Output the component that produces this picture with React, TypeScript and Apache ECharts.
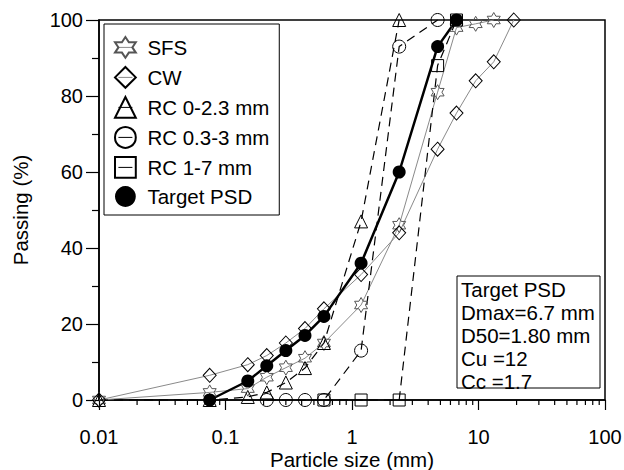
import React, { useEffect, useRef } from "react";
import * as echarts from "echarts";

// ---- data ----
const sfsSize = [0.01, 0.075, 0.15, 0.212, 0.3, 0.425, 0.6, 1.18, 2.36, 4.75, 6.7, 9.5, 13.2];
const sfsPass = [0, 2, 3, 6, 8.5, 11, 15, 25, 46, 81, 98, 99, 100];

const cwSize = [0.01, 0.075, 0.15, 0.212, 0.3, 0.425, 0.6, 1.18, 2.36, 4.75, 6.7, 9.5, 13.2, 19];
const cwPass = [0, 6.5, 9.3, 11.7, 15, 18.8, 24, 33, 44, 66, 75.5, 84, 89, 100];

const rc023Size = [0.01, 0.075, 0.15, 0.212, 0.3, 0.425, 0.6, 1.18, 2.36];
const rc023Pass = [0, 0, 0.8, 2, 4.6, 8.4, 15, 47, 100];

const rc033Size = [0.212, 0.3, 0.425, 0.6, 1.18, 2.36, 4.75];
const rc033Pass = [0, 0, 0, 0, 13, 93, 100];

const rc17Size = [0.6, 1.18, 2.36, 4.75, 6.7];
const rc17Pass = [0, 0, 0, 88, 100];

const targetSize = [0.075, 0.15, 0.212, 0.3, 0.425, 0.6, 1.18, 2.36, 4.75, 6.7];
const targetPass = [0, 5, 9, 13, 17, 22, 36, 60, 93, 100];

const seriesNames = ["SFS", "CW", "RC 0-2.3 mm", "RC 0.3-3 mm", "RC 1-7 mm", "Target PSD"];
const xTickLabels = ["0.01", "0.1", "1", "10", "100"];
const xMinorTicks = [
  0.02, 0.03, 0.04, 0.05, 0.06, 0.07, 0.08, 0.09,
  0.2, 0.3, 0.4, 0.5, 0.6, 0.7, 0.8, 0.9,
  2, 3, 4, 5, 6, 7, 8, 9,
  20, 30, 40, 50, 60, 70, 80, 90,
];
const noteLines = ["Target PSD", "Dmax=6.7 mm", "D50=1.80 mm", "Cu =12", "Cc =1.7"];

const FONT = "Liberation Sans, Arial, Helvetica, sans-serif";
const STAR =
  "path://M50,0 L64.4,25 L93.3,25 L78.9,50 L93.3,75 L64.4,75 L50,100 L35.6,75 L6.7,75 L21.1,50 L6.7,25 L35.6,25 Z";

const pairs = (xs: number[], ys: number[]) => xs.map((x, i) => [x, ys[i]]);

export default function App() {
  const ref = useRef<HTMLDivElement>(null);
  useEffect(() => {
    if (!ref.current) return;
    const chart = echarts.init(ref.current, null, { renderer: "svg" });
    const hollow = (stroke: string) => ({ color: "rgba(0,0,0,0)", borderColor: stroke, borderWidth: 1 });
    const option: any = {
      animation: false,
      grid: {
        left: 99,
        right: 19,
        top: 20,
        bottom: 70,
        containLabel: false,
        outerBoundsMode: "none",
        show: true,
        borderColor: "#000",
        borderWidth: 1.5,
        backgroundColor: "transparent",
      },
      xAxis: {
        type: "log",
        logBase: 10,
        min: 0.01,
        max: 100,
        name: "Particle size (mm)",
        nameLocation: "middle",
        nameGap: 49,
        nameMoveOverlap: false,
        nameTextStyle: { fontSize: 20.5, color: "#000", fontFamily: FONT },
        axisLine: { show: true, lineStyle: { color: "#000", width: 1.5 } },
        axisTick: { show: true, inside: false, length: 10, lineStyle: { color: "#000", width: 1.2 } },
        axisLabel: {
          fontSize: 20,
          color: "#000",
          fontFamily: FONT,
          margin: 27,
          formatter: (v: number) => xTickLabels[Math.round(Math.log10(v)) + 2],
        },
        splitLine: { show: false },
      },
      yAxis: {
        type: "value",
        min: 0,
        max: 100,
        interval: 20,
        name: "Passing (%)",
        nameLocation: "middle",
        nameGap: 68,
        nameMoveOverlap: false,
        nameTextStyle: { fontSize: 20.5, color: "#000", fontFamily: FONT },
        axisLine: { show: true, lineStyle: { color: "#000", width: 1.5 } },
        axisTick: { show: true, inside: false, length: 13, lineStyle: { color: "#000", width: 1.2 } },
        minorTick: { show: true, splitNumber: 2, length: 7, lineStyle: { color: "#000", width: 1.2 } },
        axisLabel: { fontSize: 20, color: "#000", fontFamily: FONT, margin: 16 },
        splitLine: { show: false },
        minorSplitLine: { show: false },
      },
      legend: {
        orient: "vertical",
        left: 104,
        top: 24,
        padding: [12, 10, 8, 10],
        borderColor: "#000",
        borderWidth: 1,
        backgroundColor: "#fff",
        itemWidth: 14,
        itemHeight: 26,
        itemGap: 7.2,
        textStyle: { fontSize: 20.5, color: "#000", fontFamily: FONT, padding: [0, 0, 0, 10] },
        lineStyle: { type: "solid", width: 1 },
        data: seriesNames,
      },
      graphic: [
        {
          type: "rect",
          shape: { x: 457, y: 276, width: 143, height: 112 },
          style: { fill: "#fff", stroke: "#000", lineWidth: 1 },
          z: 10,
        },
        {
          type: "text",
          x: 461,
          y: 278,
          style: {
            text: noteLines.join("\n"),
            fontSize: 20.5,
            lineHeight: 23,
            fontFamily: FONT,
            fill: "#000",
            verticalAlign: "top",
          },
          z: 11,
        },
      ],
      series: [
        {
          type: "custom",
          name: "minorTicks",
          coordinateSystem: "cartesian2d",
          silent: true,
          clip: false,
          data: xMinorTicks.map((v) => [v, 0]),
          renderItem: (_p: any, api: any) => {
            const pt = api.coord([api.value(0), 0]);
            return {
              type: "line",
              shape: { x1: pt[0], y1: pt[1], x2: pt[0], y2: pt[1] + 5 },
              style: { stroke: "#000", lineWidth: 1.2 },
            };
          },
        },
        {
          type: "line",
          name: "SFS",
          data: pairs(sfsSize, sfsPass),
          symbol: STAR,
          symbolKeepAspect: true,
          symbolSize: 15,
          clip: false,
          lineStyle: { color: "#8a8a8a", width: 1 },
          itemStyle: hollow("#555"),
        },
        {
          type: "line",
          name: "CW",
          data: pairs(cwSize, cwPass),
          symbol: "diamond",
          symbolSize: [13, 14],
          clip: false,
          lineStyle: { color: "#8a8a8a", width: 1 },
          itemStyle: hollow("#000"),
        },
        {
          type: "line",
          name: "RC 0-2.3 mm",
          data: pairs(rc023Size, rc023Pass),
          symbol: "triangle",
          symbolSize: 13,
          clip: false,
          lineStyle: { color: "#000", width: 1.2, type: [9, 6] },
          itemStyle: hollow("#000"),
        },
        {
          type: "line",
          name: "RC 0.3-3 mm",
          data: pairs(rc033Size, rc033Pass),
          symbol: "circle",
          symbolSize: 13,
          clip: false,
          lineStyle: { color: "#000", width: 1.2, type: [9, 6] },
          itemStyle: hollow("#000"),
        },
        {
          type: "line",
          name: "RC 1-7 mm",
          data: pairs(rc17Size, rc17Pass),
          symbol: "rect",
          symbolSize: 12,
          clip: false,
          lineStyle: { color: "#000", width: 1.2, type: [9, 6] },
          itemStyle: hollow("#000"),
        },
        {
          type: "line",
          name: "Target PSD",
          data: pairs(targetSize, targetPass),
          symbol: "circle",
          symbolSize: 13,
          clip: false,
          lineStyle: { color: "#000", width: 2.5 },
          itemStyle: { color: "#000", borderColor: "#000", borderWidth: 0 },
        },
      ],
    };
    chart.setOption(option);
    return () => chart.dispose();
  }, []);
  return (
    <div
      ref={ref}
      style={{ position: "absolute", left: 0, top: 0, width: 624, height: 470, background: "#fff" }}
    />
  );
}
